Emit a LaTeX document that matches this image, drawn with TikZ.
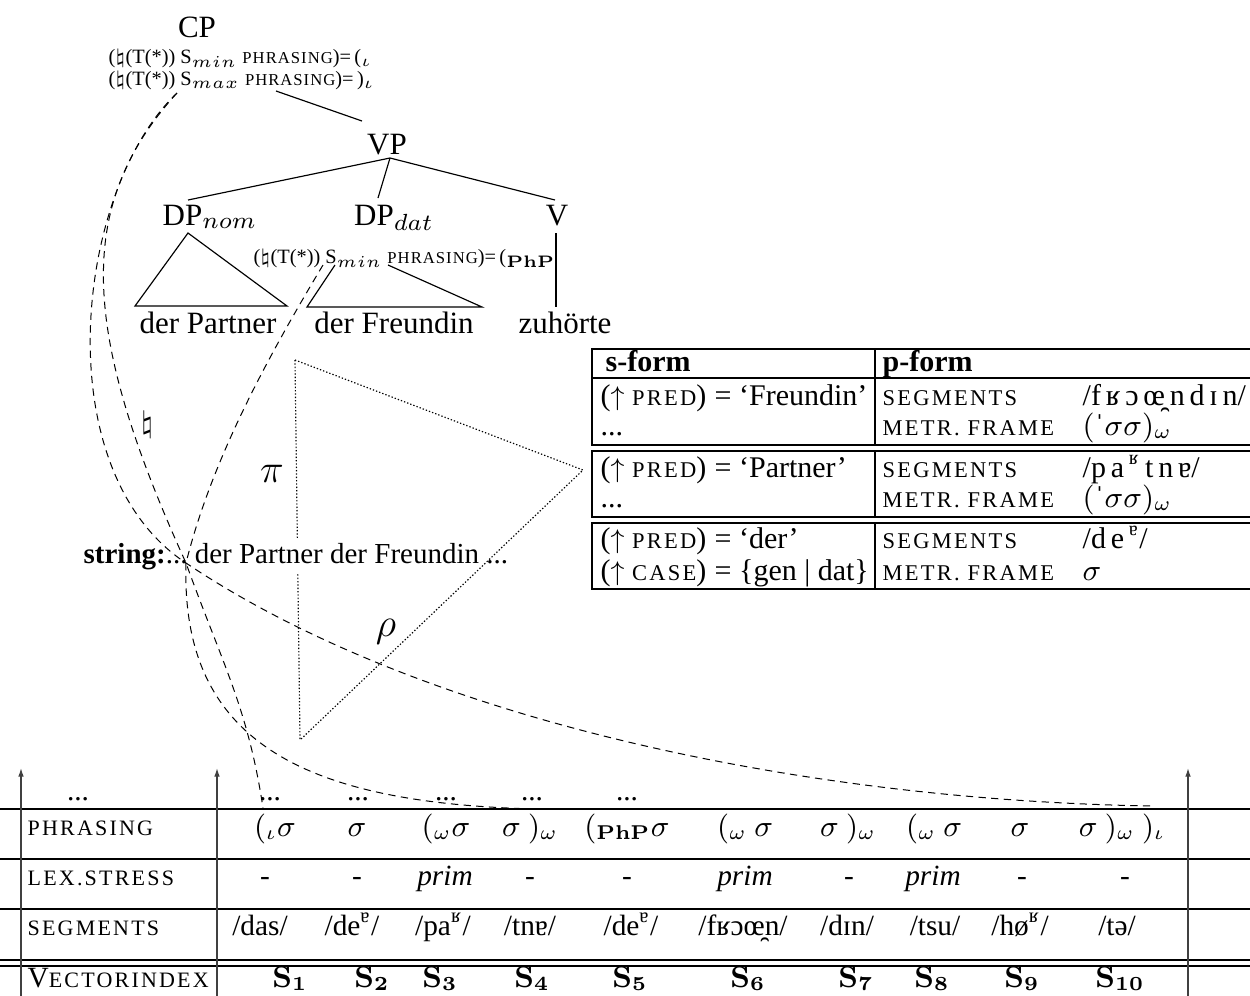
\documentclass[tikz,border=0pt]{standalone}
\usepackage[no-math]{fontspec}
\setmainfont{Liberation Serif}
\usepackage{graphicx}
\usetikzlibrary{arrows.meta,calc}
\newcommand\fs[1]{\fontsize{#1}{#1}\selectfont}
\newcommand\smc[1]{{\addfontfeature{LetterSpace=10}\scalebox{0.75}{#1}}}
\newcommand\asmc[1]{{\addfontfeature{LetterSpace=6}\scalebox{0.82}{#1}}}
\newcommand\ipsp{\hspace{0.16em}}
\newcommand\uparr{\scalebox{0.9}{$\uparrow$}}
\begin{document}
\begin{tikzpicture}[x=0.3pt,y=-0.3pt,
  tl/.style={font=\fs{9.3}, inner sep=0pt, anchor=base},
  ann/.style={font=\fs{6.1}, inner sep=0pt, anchor=base west},
  ln/.style={line width=0.35pt},
  dc/.style={line width=0.3pt, dash pattern=on 2.2pt off 1.6pt},
  dt/.style={line width=0.35pt, dash pattern=on 0.4pt off 0.6pt},
  rt/.style={font=\fs{9}, inner sep=0pt, anchor=base west},
  rb/.style={line width=0.8pt},
  rs/.style={line width=0.5pt},
  bt/.style={font=\fs{8.8}, inner sep=0pt, anchor=base},
  bl/.style={font=\fs{8.8}, inner sep=0pt, anchor=base west},
  hb/.style={line width=0.65pt},
  hs/.style={line width=0.45pt},
  varr/.style={line width=0.4pt, draw=black!75, -{Latex[length=2.6pt,width=1.7pt]}},
  big/.style={font=\fs{12}, inner sep=0pt},
]
\useasboundingbox (0,0) rectangle (1250,995);
\clip (0,0) rectangle (1250,995);

% ---------------- tree ----------------
\node[tl] (cp) at (197,37) {CP};
\node[ann] (a1) at (108,63) {($\natural$(T(*)) S$_{min}$ \asmc{PHRASING})=\,($_\iota$};
\node[ann] (a2) at (108,85) {($\natural$(T(*)) S$_{max}$ \asmc{PHRASING})=\,)$_\iota$};
\node[tl] (vp) at (387,154) {VP};
\node[tl] (dpn) at (210,225) {DP$_{nom}$};
\node[tl] (dpd) at (394,225) {DP$_{dat}$};
\node[tl] (v) at (557,225) {V};
\node[ann] (a3) at (253,263) {($\natural$(T(*)) S$_{min}$ \asmc{PHRASING})=\,($_{\mathbf{PhP}}$};
\node[tl] (w1) at (208,333) {der Partner};
\node[tl] (w2) at (394,333) {der Freundin};
\node[tl] (w3) at (565,333) {zuhörte};

\coordinate (cpf) at (276,91);
\coordinate (vpt) at (362,121);
\coordinate (vpb) at (390,158);
\coordinate (dpnt) at (188,200);
\coordinate (dpdt) at (378,198);
\coordinate (vt) at (555,200);
\draw[ln] (cpf) -- (vpt);
\draw[ln] (vpb) -- (dpnt);
\draw[ln] (vpb) -- (dpdt);
\draw[ln] (vpb) -- (vt);
\coordinate (r1a) at (188,233);
\coordinate (r1l) at (135,306);
\coordinate (r1r) at (287,306);
\draw[ln] (r1a) -- (r1l) -- (r1r) -- cycle;
\coordinate (r2a) at (335,265);
\coordinate (r2b) at (388,265);
\coordinate (r2l) at (307,307);
\coordinate (r2r) at (482,307);
\draw[ln] (r2a) -- (r2l) -- (r2r) -- (r2b);
\coordinate (vb) at (556,233);
\coordinate (w3t) at (556,307);
\draw[ln] (vb) -- (w3t);

% ---------------- right table ----------------
\draw[rb] (1260,349) -- (592,349) -- (592,445) -- (1260,445);
\draw[rb] (592,378) -- (1260,378);
\draw[rb] (1260,451) -- (592,451) -- (592,517) -- (1260,517);
\draw[rb] (1260,523) -- (592,523) -- (592,589) -- (1260,589);
\draw[rs] (875,349) -- (875,445);
\draw[rs] (875,451) -- (875,517);
\draw[rs] (875,523) -- (875,589);

\node[rt] (sf) at (605,371) {\textbf{s-form}};
\node[rt] (pf) at (882,371) {\textbf{p-form}};
\node[rt] (s11) at (600,405) {(\uparr\ \smc{PRED})};
\node[rt] (s12) at (714,405) {= ‘Freundin’};
\node[rt] (s13) at (600,435) {...};
\node[rt] (s21) at (600,477) {(\uparr\ \smc{PRED})};
\node[rt] (s22) at (714,477) {= ‘Partner’};
\node[rt] (s23) at (600,507) {...};
\node[rt] (s31) at (600,548) {(\uparr\ \smc{PRED})};
\node[rt] (s32) at (714,548) {= ‘der’};
\node[rt] (s33) at (600,580) {(\uparr\ \smc{CASE})};
\node[rt] (s34) at (714,580) {= \{gen | dat\}};

\node[rt] (p11) at (882,405) {\smc{SEGMENTS}};
\node[rt] (p12) at (1082,405) {/f\ipsp ʁ\ipsp ɔ\ipsp œ̯\ipsp n\ipsp d\ipsp ɪ\ipsp n/};
\node[rt] (p13) at (882,435) {\smc{METR. FRAME}};
\node[rt] (p14) at (1082,435) {$(\mbox{ˈ}\sigma\sigma)_\omega$};
\node[rt] (p21) at (882,477) {\smc{SEGMENTS}};
\node[rt] (p22) at (1082,477) {/p\ipsp a\ipsp \textsuperscript{ʁ}\ipsp t\ipsp n\ipsp ɐ/};
\node[rt] (p23) at (882,507) {\smc{METR. FRAME}};
\node[rt] (p24) at (1082,507) {$(\mbox{ˈ}\sigma\sigma)_\omega$};
\node[rt] (p31) at (882,548) {\smc{SEGMENTS}};
\node[rt] (p32) at (1082,548) {/d\ipsp e\ipsp \textsuperscript{ɐ}/};
\node[rt] (p33) at (882,580) {\smc{METR. FRAME}};
\node[rt] (p34) at (1082,580) {$\sigma$};

% ---------------- bottom table ----------------
\draw[hb] (0,809) -- (1250,809);
\draw[hs] (0,859) -- (1250,859);
\draw[hb] (0,909) -- (1250,909);
\draw[hs] (0,960) -- (1250,960);
\draw[hs] (0,966) -- (1250,966);

\node[bt] (d0) at (78,800) {...};
\node[bt] (d1) at (270,800) {...};
\node[bt] (d2) at (358,800) {...};
\node[bt] (d3) at (446,800) {...};
\node[bt] (d4) at (532,800) {...};
\node[bt] (d5) at (627,800) {...};

\node[bl] (lph) at (27,835) {\smc{PHRASING}};
\node[bl] (lls) at (27,885) {\smc{LEX.STRESS}};
\node[bl] (lsg) at (27,935) {\smc{SEGMENTS}};
\node[bl] (lvi) at (27,987) {V\smc{ECTORINDEX}};

\node[bt] (ph1) at (275,836) {$(_\iota\sigma$};
\node[bt] (ph2) at (357,836) {$\sigma$};
\node[bt] (ph3) at (446,836) {$(_\omega\sigma$};
\node[bt] (ph4) at (530,836) {$\sigma\ )_\omega$};
\node[bt] (ph5) at (627,836) {$(_{\mathbf{PhP}}\sigma$};
\node[bt] (ph6) at (745,836) {$(_\omega\ \sigma$};
\node[bt] (ph7) at (848,836) {$\sigma\ )_\omega$};
\node[bt] (ph8) at (934,836) {$(_\omega\ \sigma$};
\node[bt] (ph9) at (1020,836) {$\sigma$};
\node[bt] (ph10) at (1122,836) {$\sigma\ )_\omega\ )_\iota$};

\node[bt] (ls1) at (265,885) {-};
\node[bt] (ls2) at (357,885) {-};
\node[bt] (ls3) at (445,885) {\textit{prim}};
\node[bt] (ls4) at (530,885) {-};
\node[bt] (ls5) at (627,885) {-};
\node[bt] (ls6) at (745,885) {\textit{prim}};
\node[bt] (ls7) at (849,885) {-};
\node[bt] (ls8) at (933,885) {\textit{prim}};
\node[bt] (ls9) at (1022,885) {-};
\node[bt] (ls10) at (1125,885) {-};

\node[bt] (sg1) at (260,935) {/das/};
\node[bt] (sg2) at (352,935) {/de\textsuperscript{ɐ}/};
\node[bt] (sg3) at (443,935) {/pa\textsuperscript{ʁ}/};
\node[bt] (sg4) at (530,935) {/tnɐ/};
\node[bt] (sg5) at (631,935) {/de\textsuperscript{ɐ}/};
\node[bt] (sg6) at (743,935) {/fʁɔœ̯n/};
\node[bt] (sg7) at (847,935) {/dɪn/};
\node[bt] (sg8) at (935,935) {/tsu/};
\node[bt] (sg9) at (1020,935) {/hø\textsuperscript{ʁ}/};
\node[bt] (sg10) at (1117,935) {/tə/};

\node[bt] (vi1) at (290,987) {$\mathbf{S_1}$};
\node[bt] (vi2) at (372,987) {$\mathbf{S_2}$};
\node[bt] (vi3) at (440,987) {$\mathbf{S_3}$};
\node[bt] (vi4) at (532,987) {$\mathbf{S_4}$};
\node[bt] (vi5) at (630,987) {$\mathbf{S_5}$};
\node[bt] (vi6) at (748,987) {$\mathbf{S_6}$};
\node[bt] (vi7) at (856,987) {$\mathbf{S_7}$};
\node[bt] (vi8) at (932,987) {$\mathbf{S_8}$};
\node[bt] (vi9) at (1022,987) {$\mathbf{S_9}$};
\node[bt] (vi10) at (1120,987) {$\mathbf{S_{10}}$};

\coordinate (ab1) at (21,1000);
\coordinate (at1) at (21,768);
\coordinate (ab2) at (217,1000);
\coordinate (at2) at (217,768);
\coordinate (ab3) at (1188,1000);
\coordinate (at3) at (1188,768);
\draw[varr] (ab1) -- (at1);
\draw[varr] (ab2) -- (at2);
\draw[varr] (ab3) -- (at3);

% ---------------- string and projections ----------------
\node[font=\fs{8.7}, inner xsep=0pt, inner ysep=1.3pt, anchor=base west] (str) at (83,563) {\textbf{string:}...\ der Partner der Freundin ...};

\coordinate (tv) at (295,360);
\coordinate (rv) at (583,470);
\coordinate (bv) at (300,740);
\draw[dt] (tv) -- (rv) -- (bv);
\draw[dt] (tv) -- ($(tv)!(str.north)!(bv)$);
\draw[dt] ($(tv)!(str.south)!(bv)$) -- (bv);

\node[big] (pil) at (272,474) {$\pi$};
\node[big] (rhol) at (386,632) {$\rho$};
\node[font=\fs{9.5}, inner sep=0pt] (natl) at (147,425) {$\natural$};

\coordinate (cpd) at (177,93);
\coordinate (strpt) at (186,563);
\coordinate (dpd0) at (323,265);
\coordinate (e1) at (263,808);
\coordinate (e5) at (613,809);
\coordinate (e10) at (1152,806);

\draw[dc] (cpd) .. controls (75,205) and (80,330) .. (strpt) .. controls (222,663) and (248,708) .. (e1);
\draw[dc] (cpd) .. controls (75,190) and (45,470) .. (strpt) .. controls (420,720) and (800,800) .. (e10);
\draw[dc] (dpd0) .. controls (263,365) and (211,463) .. (strpt) .. controls (180,760) and (330,815) .. (e5);
\end{tikzpicture}
\end{document}
